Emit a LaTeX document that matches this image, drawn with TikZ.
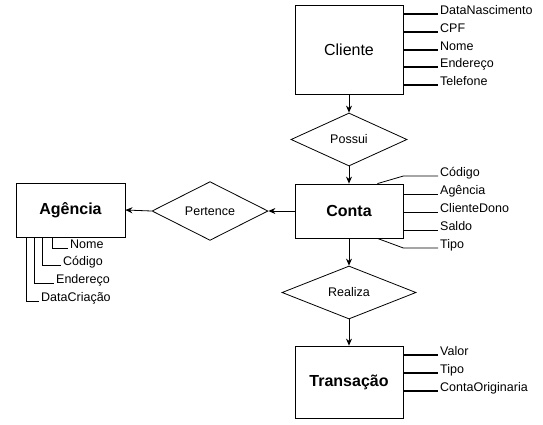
\documentclass[tikz,border=0pt]{standalone}
\usepackage{fontspec}
\setmainfont{Liberation Sans}
\usetikzlibrary{shapes.geometric,arrows.meta,calc}

\begin{document}
\begin{tikzpicture}[
    x=1pt, y=-1pt,
    font=\fontsize{12.5}{14}\selectfont,
    entityNode/.style={
        rectangle, draw=black, line width=0.8pt, fill=white,
        minimum width=108pt, inner sep=0pt,
        font=\fontsize{16}{19}\selectfont\bfseries
    },
    relNode/.style={
        diamond, draw=black, line width=0.8pt, fill=white,
        minimum width=116pt, minimum height=53pt, inner sep=0pt
    },
    attrNode/.style={
        anchor=base west, inner xsep=2pt, inner ysep=0pt
    },
    linkArrow/.style={
        -{Stealth[length=7pt, width=6pt]}, line width=0.8pt, draw=black
    },
    attrLine/.style={line width=0.8pt, draw=black},
    thickLine/.style={line width=1.8pt, draw=black}
]
\useasboundingbox (0,0) rectangle (543,424);

% Entities
\node[entityNode, minimum height=89pt, font=\fontsize{16}{19}\selectfont] (cliente) at (349,49.5) {Cliente};
\node[entityNode, minimum height=54pt] (conta) at (349,211) {Conta};
\node[entityNode, minimum width=109pt, minimum height=54pt] (agencia) at (70.5,210) {Agência};
\node[entityNode, minimum height=72pt] (transacao) at (349,382) {Transação};

% Relationships
\node[relNode] (possui) at (349,139.5) {Possui};
\node[relNode] (pertence) at (210,211) {Pertence};
\node[relNode, minimum width=134pt] (realiza) at (349,292.5) {Realiza};

% Flows
\draw[linkArrow] (cliente.south) -- (possui.north);
\draw[linkArrow] (possui.south) -- (conta.north);
\draw[linkArrow] (conta.west) -- (pertence.east);
\draw[linkArrow] (pertence.west) -- (agencia.east);
\draw[linkArrow] (conta.south) -- (realiza.north);
\draw[linkArrow] (realiza.south) -- (transacao.north);

% Cliente attributes
\node[attrNode] (clNasc) at (438,14) {DataNascimento};
\node[attrNode] (clCpf) at (438,32) {CPF};
\node[attrNode] (clNome) at (438,50) {Nome};
\node[attrNode] (clEnd) at (438,67) {Endereço};
\node[attrNode] (clTel) at (438,85) {Telefone};
\foreach \a in {clNasc,clCpf,clNome,clEnd,clTel}
    \draw[thickLine] (cliente.east |- \a.base west) -- (\a.base west);

% Conta attributes
\node[attrNode] (ctCod) at (438,176) {Código};
\node[attrNode] (ctAg) at (438,194) {Agência};
\node[attrNode] (ctDono) at (438,212) {ClienteDono};
\node[attrNode] (ctSaldo) at (438,230) {Saldo};
\node[attrNode] (ctTipo) at (438,248) {Tipo};
\draw[attrLine] ($(conta.north east)+(-26,0)$) -- (conta.east |- ctCod.base west) -- (ctCod.base west);
\foreach \a in {ctAg,ctDono,ctSaldo}
    \draw[attrLine] (conta.east |- \a.base west) -- (\a.base west);
\draw[attrLine] ($(conta.south east)+(-26,0)$) -- (conta.east |- ctTipo.base west) -- (ctTipo.base west);

% Agencia attributes
\node[attrNode] (agNome) at (68,248) {Nome};
\node[attrNode] (agCod) at (61,265) {Código};
\node[attrNode] (agEnd) at (54,283) {Endereço};
\node[attrNode] (agData) at (39,301) {DataCriação};
\draw[attrLine] ($(agencia.south west)+(37,0)$) |- (agNome.base west);
\draw[attrLine] ($(agencia.south west)+(27,0)$) |- (agCod.base west);
\draw[attrLine] ($(agencia.south west)+(19,0)$) |- (agEnd.base west);
\draw[attrLine] ($(agencia.south west)+(11,0)$) |- (agData.base west);

% Transacao attributes
\node[attrNode] (trValor) at (438,355) {Valor};
\node[attrNode] (trTipo) at (438,373) {Tipo};
\node[attrNode] (trOrig) at (438,391) {ContaOriginaria};
\foreach \a in {trValor,trTipo,trOrig}
    \draw[thickLine] (transacao.east |- \a.base west) -- (\a.base west);

\end{tikzpicture}
\end{document}
